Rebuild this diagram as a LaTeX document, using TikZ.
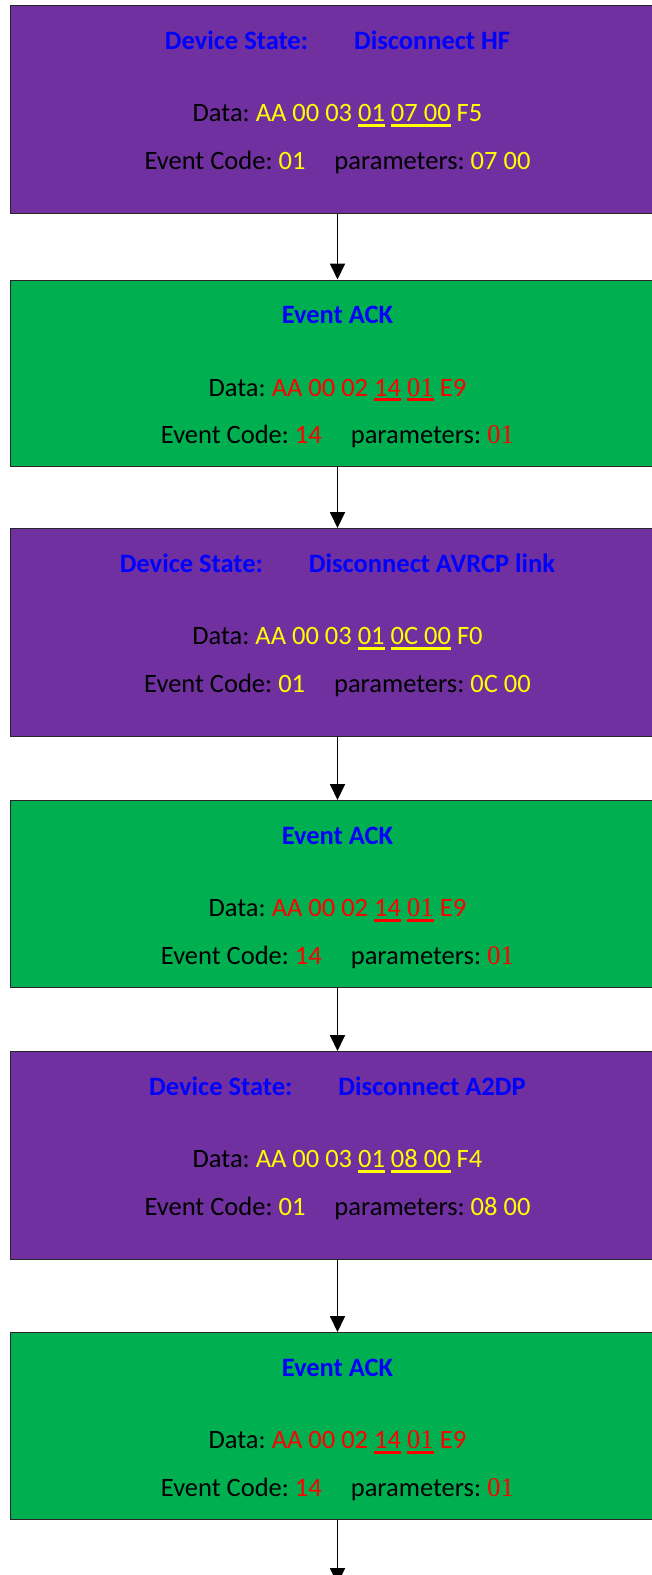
\documentclass[tikz,border=0pt]{standalone}
\usepackage{fontspec}
\setmainfont{Carlito}
\newfontfamily\tms{Liberation Serif}
\usetikzlibrary{arrows.meta}
\definecolor{pur}{HTML}{7030A0}
\definecolor{grn}{HTML}{00B050}
\definecolor{ylw}{HTML}{FFFF00}
\definecolor{rd}{HTML}{FF0000}
\definecolor{blu}{HTML}{0000FF}
\frenchspacing
\newcommand\hul[2]{\setbox0\hbox{#2}\rlap{\color{#1}\rule[-5.2pt]{\wd0}{3pt}}\box0\relax}
\newcommand\srf[1]{{\tms\fontsize{27}{30}\selectfont #1}}
\tikzset{
  box/.style={draw=black!85, line width=1.3pt, minimum width=654pt, inner sep=0pt},
  pbox/.style={box, fill=pur, minimum height=208pt},
  gbox/.style={box, fill=grn, minimum height=186.5pt},
  ttl/.style={anchor=base, font=\fontsize{26.5}{30}\selectfont\bfseries, text=blu, inner sep=0pt},
  txt/.style={anchor=base, font=\fontsize{26.5}{30}\selectfont, text=black, inner sep=0pt},
  arr/.style={-{Triangle[length=16pt,width=15pt]}, line width=1.8pt}
}
\begin{document}
\begin{tikzpicture}[x=1pt,y=-1pt]
\useasboundingbox (0,0) rectangle (652,1575);
\fill[white] (0,0) rectangle (652,1575);
\clip (0,0) rectangle (652,1575);
% box 1
\node[pbox, anchor=north] (b1) at (337.5,5) {};
\node[ttl] (t1) at ([yshift=-44pt]b1.north) {Device State:\hspace{46pt}Disconnect HF};
\node[txt] (d1) at ([yshift=-116.5pt]b1.north) {Data: \color{ylw}AA 00 03 \hul{ylw}{01} \hul{ylw}{07 00} F5};
\node[txt] (e1) at ([yshift=-164pt]b1.north) {Event Code: \textcolor{ylw}{01}\hspace{29pt}parameters: \textcolor{ylw}{07 00}};
% box 2
\node[gbox, anchor=north] (b2) at (337.5,279.5) {};
\node[ttl] (t2) at ([yshift=-44pt]b2.north) {Event ACK};
\node[txt] (d2) at ([yshift=-116.5pt]b2.north) {Data: \color{rd}AA 00 02 \hul{rd}{14} \hul{rd}{\srf{01}} E9};
\node[txt] (e2) at ([yshift=-164pt]b2.north) {Event Code: \textcolor{rd}{14}\hspace{29pt}parameters: \textcolor{rd}{\srf{01}}};
% box 3
\node[pbox, anchor=north] (b3) at (337.5,528) {};
\node[ttl] (t3) at ([yshift=-44pt]b3.north) {Device State:\hspace{46pt}Disconnect AVRCP link};
\node[txt] (d3) at ([yshift=-116.5pt]b3.north) {Data: \color{ylw}AA 00 03 \hul{ylw}{01} \hul{ylw}{0C 00} F0};
\node[txt] (e3) at ([yshift=-164pt]b3.north) {Event Code: \textcolor{ylw}{01}\hspace{29pt}parameters: \textcolor{ylw}{0C 00}};
% box 4
\node[gbox, anchor=north] (b4) at (337.5,800) {};
\node[ttl] (t4) at ([yshift=-44pt]b4.north) {Event ACK};
\node[txt] (d4) at ([yshift=-116.5pt]b4.north) {Data: \color{rd}AA 00 02 \hul{rd}{14} \hul{rd}{\srf{01}} E9};
\node[txt] (e4) at ([yshift=-164pt]b4.north) {Event Code: \textcolor{rd}{14}\hspace{29pt}parameters: \textcolor{rd}{\srf{01}}};
% box 5
\node[pbox, anchor=north] (b5) at (337.5,1051) {};
\node[ttl] (t5) at ([yshift=-44pt]b5.north) {Device State:\hspace{46pt}Disconnect A2DP};
\node[txt] (d5) at ([yshift=-116.5pt]b5.north) {Data: \color{ylw}AA 00 03 \hul{ylw}{01} \hul{ylw}{08 00} F4};
\node[txt] (e5) at ([yshift=-164pt]b5.north) {Event Code: \textcolor{ylw}{01}\hspace{29pt}parameters: \textcolor{ylw}{08 00}};
% box 6
\node[gbox, anchor=north] (b6) at (337.5,1332) {};
\node[ttl] (t6) at ([yshift=-44pt]b6.north) {Event ACK};
\node[txt] (d6) at ([yshift=-116.5pt]b6.north) {Data: \color{rd}AA 00 02 \hul{rd}{14} \hul{rd}{\srf{01}} E9};
\node[txt] (e6) at ([yshift=-164pt]b6.north) {Event Code: \textcolor{rd}{14}\hspace{29pt}parameters: \textcolor{rd}{\srf{01}}};
% arrows
\coordinate (end) at (337.5,1584);
\draw[arr] (b1.south) -- (b2.north);
\draw[arr] (b2.south) -- (b3.north);
\draw[arr] (b3.south) -- (b4.north);
\draw[arr] (b4.south) -- (b5.north);
\draw[arr] (b5.south) -- (b6.north);
\draw[arr] (b6.south) -- (end);
\end{tikzpicture}
\end{document}
